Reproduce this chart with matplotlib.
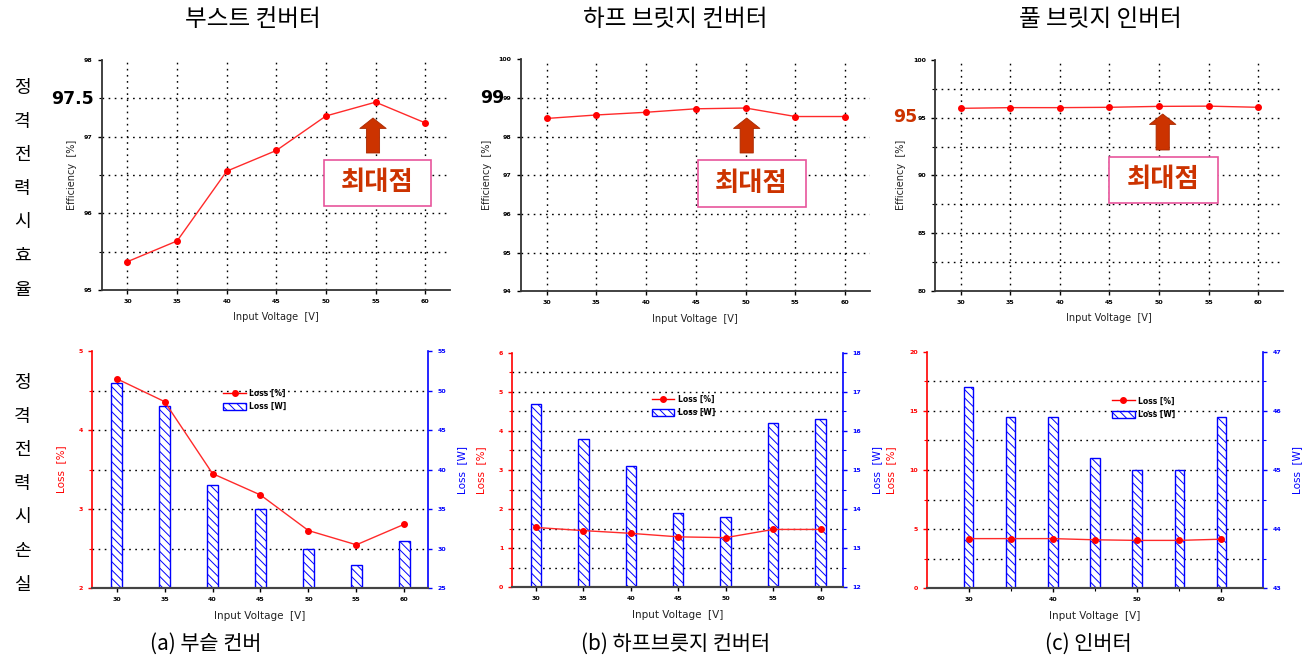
import numpy as np
import matplotlib
matplotlib.use('Agg')
import matplotlib.pyplot as plt
from matplotlib.patches import Rectangle, FancyArrowPatch, Patch
from matplotlib.lines import Line2D
from matplotlib.ticker import MultipleLocator

W, H = 1303, 659
plt.rcParams['font.family'] = ['DejaVu Sans']
plt.rcParams['hatch.linewidth'] = 0.7
KR = ['Noto Sans CJK KR', 'DejaVu Sans']

# data
voltage = [30, 35, 40, 45, 50, 55, 60]

eff_boost = [95.37, 95.64, 96.55, 96.82, 97.27, 97.45, 97.18]
eff_half = [98.47, 98.56, 98.63, 98.72, 98.74, 98.52, 98.52]
eff_full = [95.81, 95.87, 95.87, 95.90, 95.98, 96.00, 95.90]

loss_pct_boost = [4.65, 4.36, 3.45, 3.18, 2.73, 2.55, 2.81]
loss_w_boost = [51, 48, 38, 35, 30, 28, 31]
loss_pct_half = [1.53, 1.45, 1.38, 1.29, 1.27, 1.48, 1.48]
loss_w_half = [16.7, 15.8, 15.1, 13.9, 13.8, 16.2, 16.3]
loss_pct_full = [4.2, 4.2, 4.2, 4.1, 4.05, 4.05, 4.15]
loss_w_full = [46.4, 45.9, 45.9, 45.2, 45.0, 45.0, 45.9]

col_titles = ['부스트 컨버터', '하프 브릿지 컨버터', '풀 브릿지 인버터']
captions = ['(a) 부슽 컨버', '(b) 하프브릇지 컨버터', '(c) 인버터']
row_eff = '정격전력시효율'
row_loss = '정격전력시손실'
peak_text = '최대점'

DOT = (0, (1.2, 3.2))
HATCH = '\\\\\\\\'


def rect(l, r, t, b):
    return [l / W, 1 - b / H, (r - l) / W, (b - t) / H]


def fx(px):
    return px / W


def fy(py):
    return 1 - py / H


def small_ticks(ax, axis='both', color='black'):
    ax.tick_params(axis=axis, which='major', direction='out', length=3,
                   width=1, labelsize=4.5, colors=color)
    ax.tick_params(axis=axis, which='minor', direction='out', length=2, width=0.8,
                   colors=color)
    labels = []
    if axis in ('x', 'both'):
        labels += ax.get_xticklabels()
    if axis in ('y', 'both'):
        labels += ax.get_yticklabels()
    for t in labels:
        t.set_fontweight('bold')


def hgrid(ax, lo, hi, step):
    # dotted horizontal grid, none on the top edge
    for v in np.arange(lo + step, hi - step / 2, step):
        ax.axhline(v, ls=DOT, color='black', lw=1, zorder=0.5)


def eff_panel(box, y, ylim, major, minor):
    ax = fig.add_axes(rect(*box))
    ax.plot(voltage, y, color='#ff2a2a', lw=1, marker='o', ms=4,
            markerfacecolor='red', markeredgecolor='red', zorder=3)
    ax.set_xlim(27.4, 62.5)
    ax.set_ylim(*ylim)
    ax.set_xticks(voltage)
    ax.yaxis.set_major_locator(MultipleLocator(major))
    ax.yaxis.set_minor_locator(MultipleLocator(minor))
    ax.grid(True, axis='x', which='major', ls=DOT, color='black', lw=1)
    hgrid(ax, ylim[0], ylim[1], minor)
    for s in ['top', 'right']:
        ax.spines[s].set_visible(False)
    for s in ['left', 'bottom']:
        ax.spines[s].set_color('#333333')
        ax.spines[s].set_linewidth(1.3)
    small_ticks(ax)
    ax.set_xlabel('Input Voltage  [V]', fontsize=7, color='#222222', labelpad=6)
    ax.set_ylabel('Efficiency  [%]', fontsize=7, color='#222222', labelpad=5)
    return ax


def loss_panel(box, pct, watt, ylim1, maj1, min1, ylim2, maj2, min2,
               xlim, xmajor, xminor, leg_anchor):
    ax1 = fig.add_axes(rect(*box))
    ax2 = ax1.twinx()
    ax2.bar(voltage, watt, width=1.1, facecolor='white', edgecolor='blue',
            hatch=HATCH, lw=1, zorder=2)
    ax1.plot(voltage, pct, color='#ff2a2a', lw=1, marker='o', ms=4,
             markerfacecolor='red', markeredgecolor='red', zorder=3)
    ax1.set_zorder(ax2.get_zorder() + 1)
    ax1.patch.set_visible(False)
    ax1.set_xlim(*xlim)
    ax1.set_xticks(xmajor)
    ax1.set_xticks(xminor, minor=True)
    ax1.set_ylim(*ylim1)
    ax2.set_ylim(*ylim2)
    ax1.yaxis.set_major_locator(MultipleLocator(maj1))
    ax1.yaxis.set_minor_locator(MultipleLocator(min1))
    ax2.yaxis.set_major_locator(MultipleLocator(maj2))
    ax2.yaxis.set_minor_locator(MultipleLocator(min2))
    hgrid(ax2, ylim2[0], ylim2[1], min2)
    for a in (ax1, ax2):
        a.spines['top'].set_visible(False)
        a.spines['bottom'].set_color('#444444')
        a.spines['bottom'].set_linewidth(1.5)
    ax1.spines['right'].set_visible(False)
    ax2.spines['left'].set_visible(False)
    ax1.spines['left'].set_color('red')
    ax1.spines['left'].set_linewidth(1.2)
    ax2.spines['right'].set_color('blue')
    ax2.spines['right'].set_linewidth(1.2)
    small_ticks(ax1, 'x')
    small_ticks(ax1, 'y', 'red')
    small_ticks(ax2, 'y', 'blue')
    ax1.set_xlabel('Input Voltage  [V]', fontsize=7.5, color='#222222', labelpad=6)
    ax1.set_ylabel('Loss  [%]', fontsize=7.5, color='red', labelpad=9)
    ax2.set_ylabel('Loss  [W]', fontsize=7.5, color='blue', labelpad=8)
    handles = [Line2D([], [], color='red', lw=1, marker='o', ms=4),
               Patch(facecolor='white', edgecolor='blue', hatch=HATCH, lw=1)]
    ax1.legend(handles, ['Loss [%]', 'Loss [W]'], loc='upper left',
               bbox_to_anchor=leg_anchor, frameon=False, handlelength=3,
               handleheight=1.1, labelspacing=0.6, handletextpad=0.4,
               prop={'size': 5.5, 'weight': 'bold'})
    return ax1, ax2


def peak_marker(x_arrow, y_tip, y_base, box):
    arrow = FancyArrowPatch((fx(x_arrow), fy(y_base)), (fx(x_arrow), fy(y_tip)),
                            transform=fig.transFigure,
                            arrowstyle='simple,head_length=7.5,head_width=19,tail_width=9.5',
                            mutation_scale=1, shrinkA=0, shrinkB=0,
                            facecolor='#cc3300', edgecolor='#a82800', lw=0.6)
    fig.add_artist(arrow)
    l, r, t, b = box
    fig.add_artist(Rectangle((fx(l), fy(b)), fx(r - l), (b - t) / H,
                             transform=fig.transFigure, fill=True,
                             facecolor='white', edgecolor='#e8559c', lw=1.2))
    fig.text(fx((l + r) / 2), fy((t + b) / 2), peak_text, family=KR,
             fontsize=19, fontweight='bold', color='#cc3300',
             ha='center', va='center')


fig = plt.figure(figsize=(W / 100, H / 100), dpi=100)

eff_panel((101.7, 450, 60, 290), eff_boost, (95, 98), 1, 0.5)
eff_panel((520.7, 870, 59.3, 291.3), eff_half, (94, 100), 1, 1)
eff_panel((935, 1283, 60, 290.7), eff_full, (80, 100), 5, 2.5)

loss_panel((91.7, 428.3, 351, 588.3), loss_pct_boost, loss_w_boost,
           (2, 5), 1, 0.5, (25, 55), 5, 5,
           (27.4, 62.5), voltage, [], (0.37, 0.87))
loss_panel((512.3, 843.3, 352.7, 587.3), loss_pct_half, loss_w_half,
           (0, 6), 1, 0.5, (12, 18), 1, 0.5,
           (27.5, 62.4), voltage, [], (0.40, 0.85))
loss_panel((926.7, 1263.3, 351.7, 588.3), loss_pct_full, loss_w_full,
           (0, 20), 5, 2.5, (43, 47), 1, 0.5,
           (25, 65), [30, 40, 50, 60], [35, 45, 55], (0.53, 0.84))

# big value callouts
fig.text(fx(94), fy(99), '97.5', fontsize=12.5, fontweight='bold', color='black',
         ha='right', va='center')
fig.text(fx(504), fy(98.3), '99', fontsize=12.5, fontweight='bold', color='black',
         ha='right', va='center')
fig.text(fx(917), fy(116.7), '95', fontsize=12.5, fontweight='bold', color='#cc3300',
         ha='right', va='center')

peak_marker(373, 118, 153, (324, 431, 160, 206))
peak_marker(746.7, 118, 153, (697.7, 805.7, 160, 206.7))
peak_marker(1162.7, 114, 150, (1109, 1218, 157, 203))

# column titles, row labels, captions
for cx, t in zip([253, 675, 1100], col_titles):
    fig.text(fx(cx), fy(20), t, family=KR, fontsize=17, ha='center', va='center')

for i, ch in enumerate(row_eff):
    fig.text(fx(22), fy(88 + i * 33.6), ch, family=KR, fontsize=13,
             ha='center', va='center')
for i, ch in enumerate(row_loss):
    fig.text(fx(22), fy(383 + i * 33.6), ch, family=KR, fontsize=13,
             ha='center', va='center')

for cx, t in zip([206, 676, 1088], captions):
    fig.text(fx(cx), fy(644), t, family=KR, fontsize=15, ha='center', va='center')

fig.savefig('out.png', dpi=100)
